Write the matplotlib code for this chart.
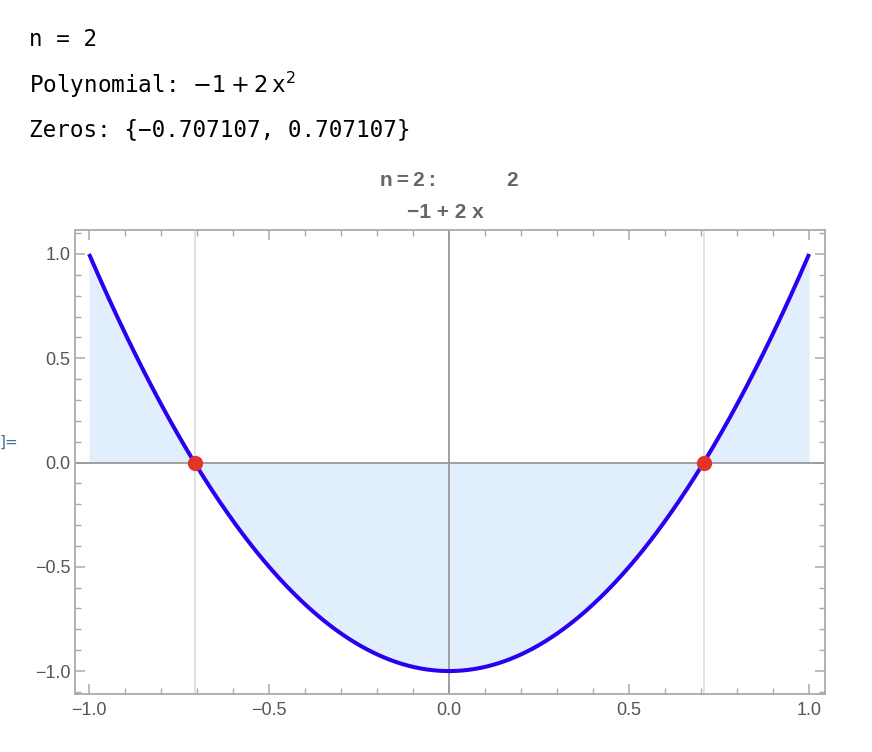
import numpy as np
import matplotlib
matplotlib.use("Agg")
import matplotlib.pyplot as plt
from matplotlib.ticker import MultipleLocator

# Data
n_value = 2
coefficients = [-1, 0, 2]          # -1 + 0 x + 2 x^2
zeros = [-0.707107, 0.707107]
x_range = [-1.0, 1.0]
x_ticks = [-1.0, -0.5, 0.0, 0.5, 1.0]
y_ticks = [-1.0, -0.5, 0.0, 0.5, 1.0]

fig = plt.figure(figsize=(8.72, 7.52), dpi=100)
mono = "DejaVu Sans Mono"

# Header text (Mathematica-style output)
hkw = dict(family=mono, fontsize=16.3, va="center", ha="left")
fig.text(29 / 872, 1 - 40 / 752, "n = 2", **hkw)
fig.text(29 / 872, 1 - 85 / 752, r"Polynomial: $-1+2\,\mathregular{x}^{2}$", **hkw)
fig.text(29 / 872, 1 - 130 / 752, "Zeros: {\u22120.707107, 0.707107}", **hkw)
fig.text(0 / 872, 1 - 442 / 752, "]=", color="#4a6f9c", fontsize=11, va="center", ha="left")

ax = fig.add_axes([75 / 872, 58 / 752, 750 / 872, 464 / 752])

xs = np.linspace(x_range[0], x_range[1], 600)
ys = np.polyval(coefficients[::-1], xs)

ax.fill_between(xs, ys, 0, color="#e1eefc", lw=0, zorder=1)
for z in zeros:
    ax.axvline(z, color="#dddddd", lw=1.2, zorder=1.5)
ax.axhline(0, color="#999999", lw=1.3, zorder=2)
ax.axvline(0, color="#999999", lw=1.3, zorder=2)
ax.plot(xs, ys, color="#2a00f0", lw=2.9, zorder=3, solid_capstyle="butt")
ax.plot(zeros, [0, 0], "o", color="#e2352a", ms=11, zorder=4, mec="none")

ax.set_xlim(-1.039, 1.044)
ax.set_ylim(-1.11, 1.115)
ax.set_xticks(x_ticks)
ax.set_yticks(y_ticks)
ax.set_xticklabels([f"{v:.1f}".replace("-", "\u2212") for v in x_ticks])
ax.set_yticklabels([f"{v:.1f}".replace("-", "\u2212") for v in y_ticks])
ax.xaxis.set_minor_locator(MultipleLocator(0.1))
ax.yaxis.set_minor_locator(MultipleLocator(0.1))
ax.tick_params(which="both", direction="in", top=True, right=True, color="#aaaaaa",
               labelcolor="#555555", labelsize=13, labelfontfamily="Liberation Sans")
ax.tick_params(which="major", length=7, width=1.1)
ax.tick_params(which="minor", length=4, width=1.0)
ax.tick_params(axis="x", which="major", pad=6)
for s in ax.spines.values():
    s.set_color("#aaaaaa")
    s.set_linewidth(1.3)

# Title (two-line Mathematica-style, with superscript on the upper line)
tkw = dict(color="#666666", fontsize=15, fontweight="bold", family="Liberation Sans",
           va="center", ha="left")
fig.text(380 / 872, 1 - 181 / 752, "n\u2009=\u20092\u2009:", **tkw)
fig.text(506 / 872, 1 - 181 / 752, "2", **tkw)
fig.text(407 / 872, 1 - 213 / 752, "\u22121 + 2 x", **tkw)

fig.savefig("out.png", dpi=100)
